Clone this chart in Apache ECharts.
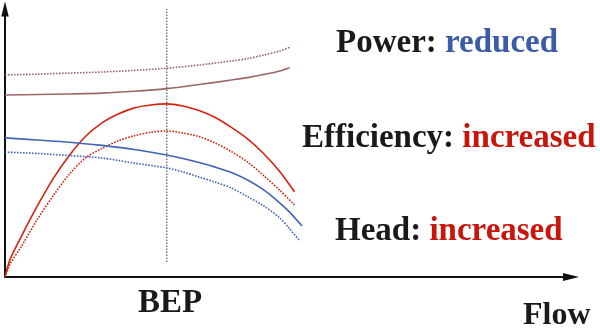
<!DOCTYPE html>
<html>
<head>
<meta charset="utf-8">
<script src="https://cdn.jsdelivr.net/npm/echarts@6/dist/echarts.min.js"></script>
<style>
html,body{margin:0;padding:0;background:#fff;}
#chart{width:600px;height:330px;}
</style>
</head>
<body>
<div id="chart"></div>
<script>
// Flow (BEP = 1.0) and relative values (0..100)
const flowPower = [0, 0.2, 0.4, 0.6, 0.8, 1.0, 1.2, 1.4, 1.5, 1.6, 1.7, 1.76];
const powerNew  = [67.9, 68.1, 68.3, 68.6, 69.3, 70.3, 71.8, 73.5, 74.4, 75.6, 76.9, 78.1];
const powerOld  = [75.4, 75.7, 76.1, 76.5, 77.1, 77.9, 79.1, 80.6, 81.5, 82.8, 84.3, 85.7];

const flowEff = [0, 0.031, 0.1, 0.2, 0.3, 0.4, 0.5, 0.6, 0.7, 0.8, 0.9, 1.0, 1.1, 1.2, 1.3, 1.4, 1.5, 1.6, 1.7, 1.79];
const effNew  = [0, 6.5, 15.0, 26.5, 36.9, 45.5, 52.6, 57.5, 60.8, 63.1, 64.2, 64.6, 63.8, 62.1, 59.5, 55.8, 51.5, 46.0, 39.3, 31.8];
const effOld  = [0, 4.8, 11.3, 21.5, 30.5, 38.5, 44.5, 48.0, 50.8, 52.7, 54.0, 54.5, 53.7, 52.4, 50.0, 46.8, 42.9, 37.8, 32.3, 26.9];

const flowHeadNew = [0, 0.2, 0.4, 0.6, 0.8, 1.0, 1.1, 1.2, 1.3, 1.4, 1.5, 1.6, 1.7, 1.76, 1.837];
const headNew     = [51.9, 51.1, 50.3, 49.1, 47.6, 45.5, 44.2, 42.7, 41.0, 39.0, 36.2, 32.5, 27.6, 24.2, 19.0];
const flowHeadOld = [0, 0.2, 0.4, 0.6, 0.8, 1.0, 1.1, 1.2, 1.3, 1.4, 1.5, 1.6, 1.7, 1.76, 1.824];
const headOld     = [46.6, 46.1, 45.3, 44.4, 42.5, 40.7, 39.2, 37.3, 35.4, 33.2, 30.0, 26.5, 22.0, 18.0, 13.4];

const bepFlow = 1.0;
const bepRange = [5.6, 100];

const labelPower = ['Power: ', 'reduced'];
const labelEff = ['Efficiency: ', 'increased'];
const labelHead = ['Head: ', 'increased'];
const labelBEP = 'BEP';
const labelFlow = 'Flow';

const C_POWER = '#9a6767';
const C_EFF = '#d2230f';
const C_HEAD = '#4064b4';
const C_TXT = '#1a1a1a';
const C_TXT_RED = '#c8160c';
const C_TXT_BLUE = '#3b5ca8';

function pairs(xs, ys){ return xs.map((x,i)=>[x, ys[i]]); }

function lineSeries(xs, ys, color, dotted){
  return {
    type: 'line', data: pairs(xs, ys), smooth: 0.3, showSymbol: false, silent: true,
    lineStyle: {color: color, width: 1.6, type: dotted ? [1.6, 1.4] : 'solid'}
  };
}

const chart = echarts.init(document.getElementById('chart'), null, {renderer: 'canvas'});
const arrowPath = 'path://M5,0 L10,20 L0,20 Z';
const font = '"Liberation Serif", "Times New Roman", serif';
const richDef = {
  k: {fontFamily: font, fontWeight: 'bold', fontSize: 33, fill: C_TXT, color: C_TXT},
  r: {fontFamily: font, fontWeight: 'bold', fontSize: 33, fill: C_TXT_RED, color: C_TXT_RED},
  b: {fontFamily: font, fontWeight: 'bold', fontSize: 33, fill: C_TXT_BLUE, color: C_TXT_BLUE}
};
function label(x, y, parts, col){
  return {type: 'text', left: x, top: y, silent: true,
    style: {text: '{k|' + parts[0] + '}{' + col + '|' + parts[1] + '}', rich: richDef}};
}

chart.setOption({
  animation: false,
  grid: {left: 5, right: 29, top: 9, bottom: 53},
  xAxis: {
    type: 'value', min: 0, max: 3.5,
    axisLine: {show: true, onZero: false, lineStyle: {color: '#111', width: 2},
      symbol: ['none', arrowPath], symbolSize: [8, 22]},
    axisTick: {show: false}, axisLabel: {show: false}, splitLine: {show: false}
  },
  yAxis: {
    type: 'value', min: 0, max: 100,
    axisLine: {show: true, onZero: false, lineStyle: {color: '#111', width: 2},
      symbol: ['none', arrowPath], symbolSize: [8, 15]},
    axisTick: {show: false}, axisLabel: {show: false}, splitLine: {show: false}
  },
  series: [
    {type: 'line', data: [[bepFlow, bepRange[0]], [bepFlow, bepRange[1]]], showSymbol: false, silent: true,
      lineStyle: {color: '#777', width: 1.5, type: [1.5, 1.5]}},
    lineSeries(flowPower, powerOld, C_POWER, true),
    lineSeries(flowPower, powerNew, C_POWER, false),
    lineSeries(flowEff, effOld, C_EFF, true),
    lineSeries(flowEff, effNew, C_EFF, false),
    lineSeries(flowHeadOld, headOld, C_HEAD, true),
    lineSeries(flowHeadNew, headNew, C_HEAD, false)
  ],
  graphic: [
    label(336, 27, labelPower, 'b'),
    label(302, 122, labelEff, 'r'),
    label(335, 215, labelHead, 'r'),
    {type: 'text', left: 138, top: 287, silent: true,
      style: {text: labelBEP, fontFamily: font, fontWeight: 'bold', fontSize: 33, fill: C_TXT}},
    {type: 'text', left: 523, top: 300, silent: true,
      style: {text: labelFlow, fontFamily: font, fontWeight: 'bold', fontSize: 32, fill: C_TXT}}
  ]
});
</script>
</body>
</html>
